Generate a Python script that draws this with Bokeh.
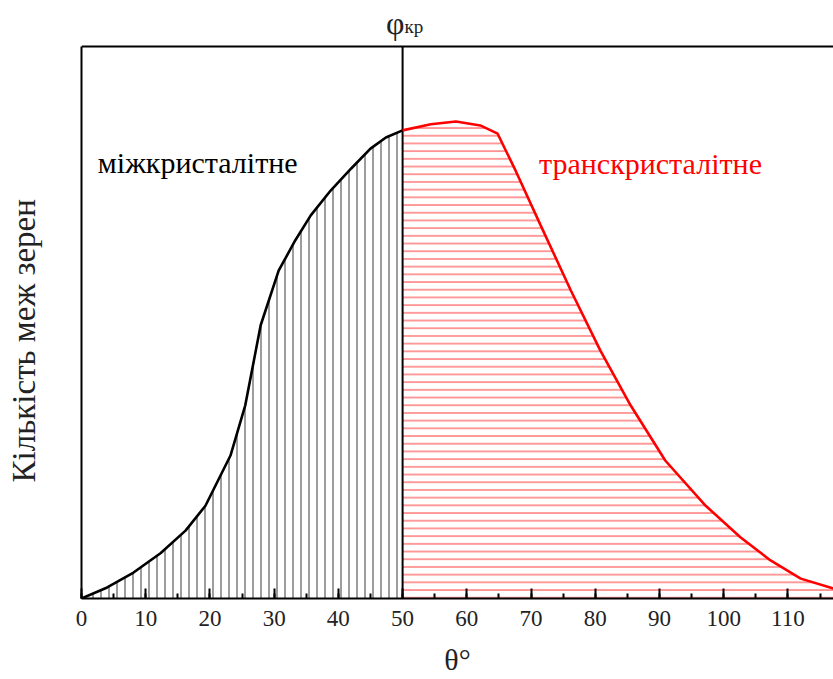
import numpy as np
from bokeh.plotting import figure
from bokeh.models import Range1d, LinearAxis, SingleIntervalTicker, FixedTicker, Span, Label
from bokeh.embed import file_html
from bokeh.resources import INLINE

# --- data ---
inter_theta = [0, 4, 8.1, 12.3, 16.2, 19.3, 23.2, 25.5, 27.9, 30.7, 33.3, 35.7, 38.8, 42, 45, 47.4, 50]
inter_count = [0, 2.0, 4.7, 8.2, 12.3, 16.8, 25.9, 35.0, 49.5, 59.4, 64.9, 69.4, 73.9, 77.9, 81.5, 83.5, 84.8]
trans_theta = [50, 54.4, 58.3, 62.1, 64.8, 67.6, 71.5, 76.2, 80.8, 85.5, 90.9, 97.2, 102.6, 107.3, 112, 117.1, 120]
trans_count = [84.8, 85.9, 86.4, 85.7, 84.2, 77.5, 67.6, 55.8, 44.9, 35.0, 25.0, 16.8, 11.1, 6.9, 3.6, 1.8, 1.3]
phi_cr = 50
count_top = 100          # top of the boxed count axis
x_label = "θ°"
y_label = "Кількість меж зерен"
left_text = "міжкристалітне"
right_text = "транскристалітне"

SERIF = "Liberation Serif"
INK = "#222222"

p = figure(width=833, height=679, output_backend="svg", toolbar_location=None,
           x_range=Range1d(0, 117.1), y_range=Range1d(0, 108.33),
           min_border_left=81, min_border_right=0, min_border_top=0, min_border_bottom=81,
           x_axis_location=None, y_axis_location=None)
p.outline_line_color = None
p.xgrid.visible = False
p.ygrid.visible = False
p.background_fill_color = "white"
p.border_fill_color = "white"

# hatched areas
p.varea(x=inter_theta, y1=0, y2=inter_count, fill_alpha=0,
        hatch_pattern="vertical_line", hatch_color="#777777", hatch_scale=8,
        hatch_weight=1.6, hatch_alpha=0.9)
p.varea(x=trans_theta, y1=0, y2=trans_count, fill_alpha=0,
        hatch_pattern="horizontal_line", hatch_color="#ff3030", hatch_scale=7.7,
        hatch_weight=1.6, hatch_alpha=0.6)

# critical angle line and top border
p.segment(x0=[phi_cr], y0=[0], x1=[phi_cr], y1=[count_top], line_color="black", line_width=2)
p.add_layout(Span(location=count_top, dimension="width", line_color="black", line_width=2))

p.line(inter_theta, inter_count, line_color="black", line_width=2.6)
p.line(trans_theta, trans_count, line_color="red", line_width=2.6)

# bottom axis
xb = LinearAxis(ticker=SingleIntervalTicker(interval=10, num_minor_ticks=2))
xb.axis_line_width = 2
xb.major_tick_in = 10
xb.major_tick_out = 0
xb.minor_tick_in = 5
xb.minor_tick_out = 0
xb.major_tick_line_width = 2
xb.minor_tick_line_width = 2
xb.major_label_text_font = SERIF
xb.major_label_text_font_size = "23px"
xb.major_label_text_color = INK
xb.major_label_standoff = 12
xb.axis_label = x_label
xb.axis_label_text_font = SERIF
xb.axis_label_text_font_size = "30px"
xb.axis_label_text_font_style = "normal"
xb.axis_label_text_color = INK
xb.axis_label_standoff = 14
p.add_layout(xb, "below")

# left border (bounded to the box)
yl = LinearAxis(ticker=FixedTicker(ticks=[]), bounds=(0, count_top))
yl.axis_line_width = 2
yl.major_tick_in = 0
yl.major_tick_out = 0
yl.minor_tick_in = 0
yl.minor_tick_out = 0
p.add_layout(yl, "left")

# left axis title (trailing no-break spaces shift it down to the box centre)
yt = LinearAxis(ticker=FixedTicker(ticks=[]))
yt.axis_line_color = None
yt.major_tick_in = 0
yt.major_tick_out = 0
yt.minor_tick_in = 0
yt.minor_tick_out = 0
yt.axis_label = y_label + "\u00a0" * 10
yt.axis_label_text_font = SERIF
yt.axis_label_text_font_size = "33px"
yt.axis_label_text_font_style = "normal"
yt.axis_label_text_color = INK
yt.axis_label_standoff = 40
p.add_layout(yt, "left")

# labels
p.add_layout(Label(x=phi_cr, y=104.3, text="φ", text_align="right", text_baseline="alphabetic",
                   x_offset=2, text_font=SERIF, text_font_size="32px", text_color=INK))
p.add_layout(Label(x=phi_cr, y=103.6, text="кр", text_align="left", text_baseline="alphabetic",
                   x_offset=2, text_font=SERIF, text_font_size="19px", text_color=INK))
p.add_layout(Label(x=18.1, y=79.0, text=left_text, text_align="center", text_baseline="alphabetic",
                   text_font=SERIF, text_font_size="30px", text_color="black"))
p.add_layout(Label(x=88.6, y=78.8, text=right_text, text_align="center", text_baseline="alphabetic",
                   text_font=SERIF, text_font_size="30px", text_color="red"))

open("out.html", "w").write(file_html(p, INLINE))
